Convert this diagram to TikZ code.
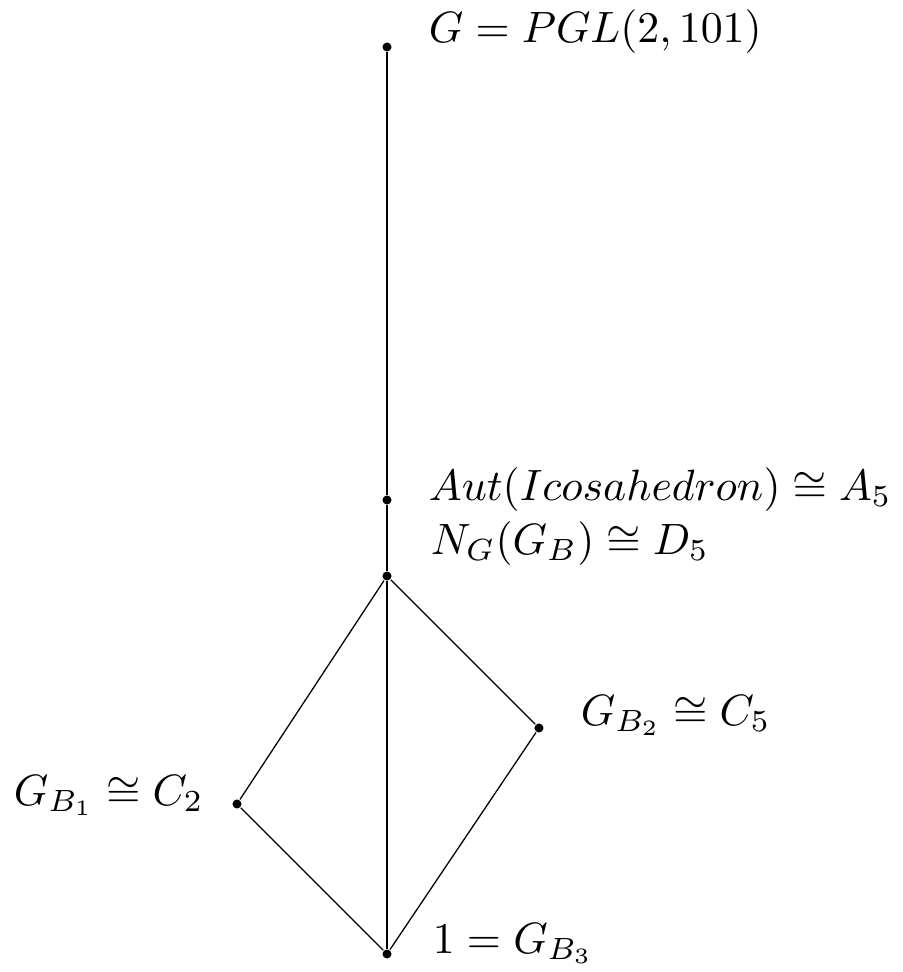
\documentclass[tikz,border=0pt]{standalone}
\usepackage{amsmath,amssymb}
\begin{document}
\begin{tikzpicture}[x=0.2326pt,y=-0.2326pt,
  vtx/.style={circle,fill=black,inner sep=0pt,minimum size=2.1pt},
  lbl/.style={anchor=base west,inner sep=0pt,scale=1.02},
  edge/.style={line width=0.3pt}]
\useasboundingbox (0,0) rectangle (902,972);
\node[vtx] (G) at (387,47) {};
\node[vtx] (A) at (387,500) {};
\node[vtx] (N) at (387,576) {};
\node[vtx] (B2) at (539,728) {};
\node[vtx] (B1) at (237,804) {};
\node[vtx] (O) at (387,954) {};
\draw[edge] (G) -- (A) -- (N) -- (O);
\draw[edge] (N) -- (B1) -- (O);
\draw[edge] (N) -- (B2) -- (O);
\node[lbl] (lG) at (428,42) {$G = PGL(2,101)$};
\node[lbl] (lA) at (428,500) {$Aut(Icosahedron) \cong A_5$};
\node[lbl] (lN) at (430,554) {$N_G(G_B) \cong D_5$};
\node[lbl] (lB2) at (580,725) {$G_{B_2} \cong C_5$};
\node[lbl] (lB1) at (13,805) {$G_{B_1} \cong C_2$};
\node[lbl] (lO) at (432,953) {$1 = G_{B_3}$};
\end{tikzpicture}
\end{document}
